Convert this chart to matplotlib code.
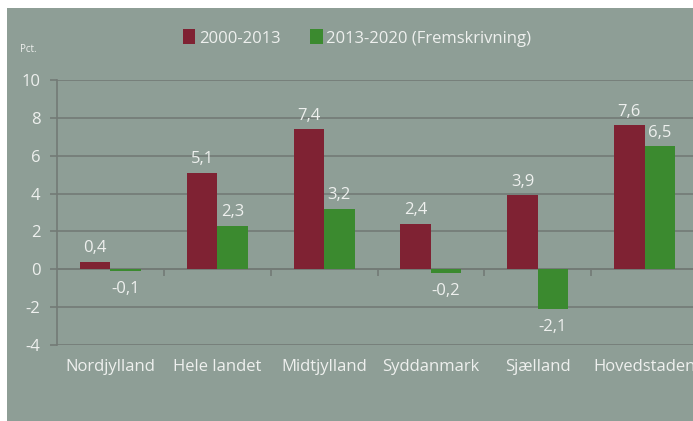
import matplotlib
matplotlib.use("Agg")
import matplotlib.pyplot as plt
import numpy as np
from matplotlib.patches import Rectangle

categories = ["Nordjylland", "Hele landet", "Midtjylland", "Syddanmark", "Sjælland", "Hovedstaden"]
series_names = ["2000-2013", "2013-2020 (Fremskrivning)"]
values_2000_2013 = [0.4, 5.1, 7.4, 2.4, 3.9, 7.6]
values_2013_2020 = [-0.1, 2.3, 3.2, -0.2, -2.1, 6.5]
yticks = [-4, -2, 0, 2, 4, 6, 8, 10]

plt.rcParams["font.family"] = ["Open Sans", "DejaVu Sans"]

BG = "#8e9e96"
RED = "#7f2233"
GREEN = "#3b8a2f"
GRID = "#737a76"
TXT = "#eef0ee"

fig = plt.figure(figsize=(6.93, 4.21), dpi=100, facecolor="white")
fig.patches.append(Rectangle((7/693, 0), 1, (421-8)/421, transform=fig.transFigure,
                             facecolor=BG, edgecolor="none", zorder=-10))

ax = fig.add_axes([57/693, (421-345)/421, (698-57)/693, (345-80)/421])
ax.set_zorder(5)
ax.set_facecolor("none")
x = np.arange(len(categories))
w = 0.285
b1 = ax.bar(x - w/2, values_2000_2013, w, color=RED, zorder=3, label=series_names[0])
b2 = ax.bar(x + w/2, values_2013_2020, w, color=GREEN, zorder=3, label=series_names[1])

def fmt(v):
    return f"{v:.1f}".replace(".", ",")

for bars, vals in ((b1, values_2000_2013), (b2, values_2013_2020)):
    for r, v in zip(bars, vals):
        cx = r.get_x() + r.get_width()/2
        if v >= 0:
            ax.annotate(fmt(v), (cx, v), xytext=(0, 4), textcoords="offset points",
                        ha="center", va="bottom", color=TXT, fontsize=12)
        else:
            ax.annotate(fmt(v), (cx, v), xytext=(0, -7), textcoords="offset points",
                        ha="center", va="top", color=TXT, fontsize=12)

ax.set_ylim(-4, 10)
ax.set_xlim(-0.5, len(categories) - 0.5)
ax.set_yticks(yticks)
ax.set_yticklabels([str(t) for t in yticks], color=TXT, fontsize=12)
ax.grid(axis="y", color=GRID, linewidth=1.2, zorder=1)
ax.set_axisbelow(True)
ax.axhline(0, color=GRID, linewidth=1.2, zorder=2)
ax.vlines(np.arange(len(categories) - 1) + 0.5, -0.35, 0, color=GRID, linewidth=1.2, zorder=2)
ax.set_xticks(x)
ax.set_xticklabels(categories, color=TXT, fontsize=12)
ax.tick_params(axis="x", length=0, pad=10)
ax.tick_params(axis="y", length=5, color=GRID, width=1.2, pad=7)
for s in ("top", "right", "bottom"):
    ax.spines[s].set_visible(False)
ax.spines["left"].set_color(GRID)
ax.spines["left"].set_linewidth(1.2)

leg = fig.legend(handles=[b1, b2], loc="center", bbox_to_anchor=(357/693, (421-38)/421),
                 ncol=2, frameon=False, fontsize=12, handlelength=0.75, handleheight=1.0,
                 handletextpad=0.2, columnspacing=1.8, labelcolor=TXT)

fig.text(20/693, (421-49)/421, "Pct.", color=TXT, fontsize=7, va="center", ha="left")

fig.savefig("out.png", dpi=100, facecolor="white")
